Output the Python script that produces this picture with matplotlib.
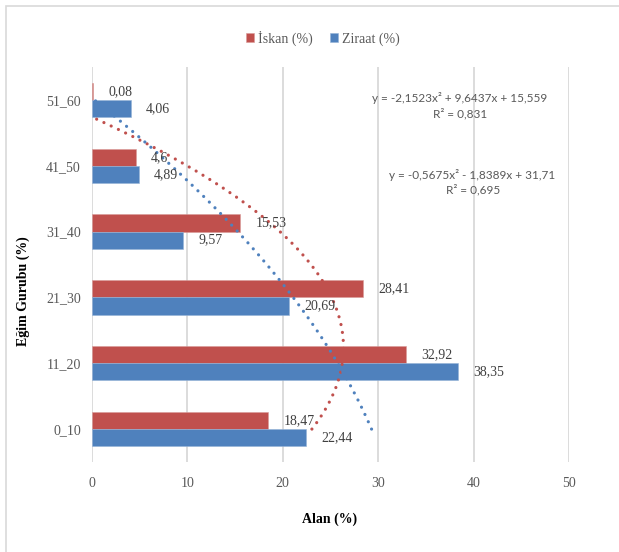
import numpy as np
import matplotlib
matplotlib.use("Agg")
import matplotlib.pyplot as plt
from matplotlib.patches import Rectangle

# slope classes and area shares (%)
categories = ["0_10", "11_20", "21_30", "31_40", "41_50", "51_60"]
iskan = [18.47, 32.92, 28.41, 15.53, 4.6, 0.08]
ziraat = [22.44, 38.35, 20.69, 9.57, 4.89, 4.06]
labels_iskan = ["18,47", "32,92", "28,41", "15,53", "4,6", "0,08"]
labels_ziraat = ["22,44", "38,35", "20,69", "9,57", "4,89", "4,06"]

# 2nd order polynomial trend lines (a, b, c) and R²
trend_iskan = [-2.1523, 9.6437, 15.559]
trend_ziraat = [-0.5675, -1.8389, 31.71]
r2_iskan = 0.831
r2_ziraat = 0.695

RED = "#C0504D"
BLUE = "#4F81BD"
GRAY = "#595959"
serif = "Liberation Serif"

W, H = 619, 552
fig = plt.figure(figsize=(W / 100, H / 100), dpi=100)
ax = fig.add_axes([92 / W, 90 / H, 477 / W, 395 / H])

# chart frame
fig.patches.append(Rectangle((6 / W, -0.1), 1.2, (H - 6) / H + 0.1,
                             transform=fig.transFigure, fill=False,
                             edgecolor="#d9d9d9", linewidth=1.2))

y = np.arange(1, len(categories) + 1)
h = 0.26
ax.barh(y + h / 2, iskan, height=h, color=RED, edgecolor="#d99b99",
        linewidth=0.4, zorder=2, label="İskan (%)")
ax.barh(y - h / 2, ziraat, height=h, color=BLUE, edgecolor="#95b3d7",
        linewidth=0.4, zorder=2, label="Ziraat (%)")

for yy, v, t in zip(y, iskan, labels_iskan):
    ax.annotate(t, (v, yy + h / 2), xytext=(11, 0), textcoords="offset points",
                va="center", ha="left", fontsize=10, family=serif,
                color="#404040", zorder=4)
for yy, v, t in zip(y, ziraat, labels_ziraat):
    ax.annotate(t, (v, yy - h / 2), xytext=(11, 0), textcoords="offset points",
                va="center", ha="left", fontsize=10, family=serif,
                color="#404040", zorder=4)

# trend lines
xs = np.linspace(1, 6, 400)
for coef, col in [(trend_iskan, RED), (trend_ziraat, BLUE)]:
    vals = np.polyval(coef, xs)
    vals = np.where(vals >= 0, vals, np.nan)
    ax.plot(vals, xs, color=col, linewidth=2.3, linestyle=(0, (0.01, 2.5)),
            dash_capstyle="round", zorder=3)

def eq_text(c):
    def f(v, nd):
        return f"{abs(v):.{nd}f}".replace(".", ",")
    s = "y = " + ("-" if c[0] < 0 else "") + f(c[0], 4) + "x² "
    s += ("- " if c[1] < 0 else "+ ") + f(c[1], 4) + "x "
    s += ("- " if c[2] < 0 else "+ ") + f(c[2], 3 if abs(c[2]) < 20 else 2)
    return s

eqfont = dict(fontsize=8.5, family="Lato", color=GRAY, ha="center", va="center")
fig.text(460 / W, 1 - 98 / H, eq_text(trend_iskan), **eqfont)
fig.text(460 / W, 1 - 114 / H, f"R² = {r2_iskan:.3f}".replace(".", ","), **eqfont)
fig.text(472 / W, 1 - 175 / H, eq_text(trend_ziraat), **eqfont)
fig.text(473 / W, 1 - 190 / H, f"R² = {r2_ziraat:.3f}".replace(".", ","), **eqfont)

ax.set_xlim(0, 50)
ax.set_ylim(0.5, 6.5)
ax.set_xticks(range(0, 51, 10))
ax.set_yticks(y)
ax.set_yticklabels(categories)
ax.xaxis.grid(True, color="#d9d9d9", linewidth=1.3, zorder=0)
ax.set_axisbelow(True)
for s in ax.spines.values():
    s.set_visible(False)
ax.tick_params(axis="both", length=0, labelsize=10, labelcolor=GRAY)
ax.tick_params(axis="y", pad=8)
ax.tick_params(axis="x", pad=11)
for lab in ax.get_xticklabels() + ax.get_yticklabels():
    lab.set_family(serif)

fig.text(330 / W, 1 - 519 / H, "Alan (%)", ha="center", va="center",
         fontsize=10, fontweight="bold", family=serif)
fig.text(23 / W, 1 - 291 / H, "Eğim Gurubu (%)", ha="center", va="center",
         rotation=90, fontsize=10, fontweight="bold", family=serif)

fig.legend(loc="center", bbox_to_anchor=(323 / W, 1 - 38 / H), ncol=2,
           frameon=False, prop={"family": serif, "size": 10},
           labelcolor=GRAY, handlelength=0.6, handleheight=0.6,
           handletextpad=0.3, columnspacing=1.2)

fig.savefig("out.png", dpi=100)
